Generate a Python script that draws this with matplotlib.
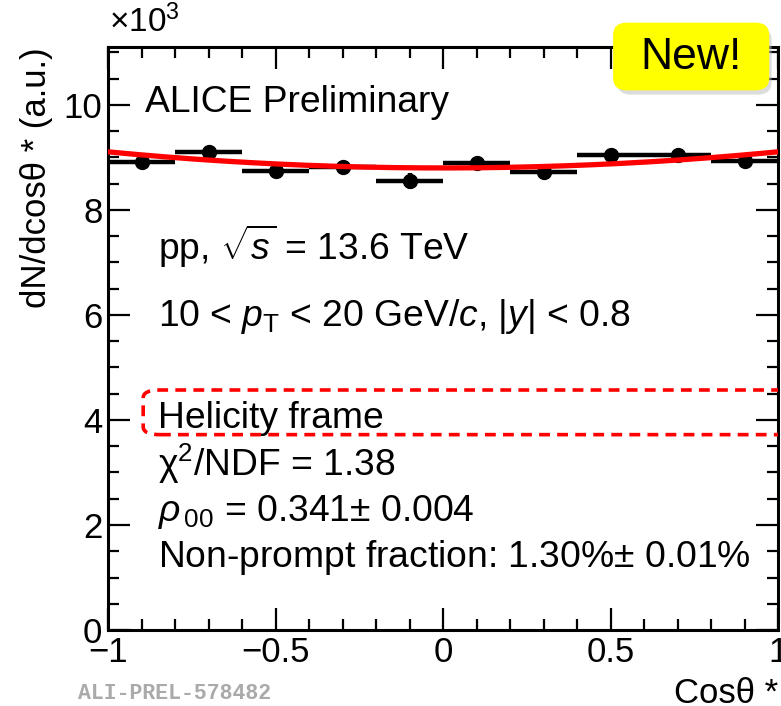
import numpy as np
import matplotlib
matplotlib.use("Agg")
import matplotlib.pyplot as plt
from matplotlib.patches import FancyBboxPatch
from matplotlib.ticker import MultipleLocator

plt.rcParams["font.family"] = ["Liberation Sans", "DejaVu Sans"]
plt.rcParams["mathtext.fontset"] = "custom"
plt.rcParams["mathtext.rm"] = "Liberation Sans"
plt.rcParams["mathtext.it"] = "Liberation Sans:italic"
plt.rcParams["mathtext.bf"] = "Liberation Sans:bold"

# cos(theta*) bins and yields (x10^3)
bin_centers = [-0.9, -0.7, -0.5, -0.3, -0.1, 0.1, 0.3, 0.5, 0.7, 0.9]
bin_half_width = 0.1
yields = [8.91, 9.10, 8.74, 8.82, 8.55, 8.90, 8.72, 9.05, 9.05, 8.93]
yield_errs = [0.06, 0.05, 0.05, 0.05, 0.15, 0.05, 0.05, 0.05, 0.05, 0.05]

# fit result
rho00 = 0.341
norm = 13.35
chi2_ndf = 1.38

fig = plt.figure(figsize=(7.81, 7.06), dpi=100)
ax = fig.add_axes([0.1383, 0.1076, 0.8579, 0.8258])

x_fit = np.linspace(-1, 1, 400)
y_fit = norm * ((1 - rho00) + (3 * rho00 - 1) * x_fit**2)

ax.errorbar(bin_centers, yields, xerr=bin_half_width, yerr=yield_errs,
            fmt="o", color="black", ms=10, elinewidth=3.2, capsize=0, zorder=3)
ax.plot(x_fit, y_fit, color="red", lw=3.8, zorder=4)

ax.set_xlim(-1, 1)
ax.set_ylim(0, 11.1)
ax.xaxis.set_major_locator(MultipleLocator(0.5))
ax.xaxis.set_minor_locator(MultipleLocator(0.1))
ax.yaxis.set_major_locator(MultipleLocator(2))
ax.yaxis.set_minor_locator(MultipleLocator(0.5))
ax.tick_params(which="both", direction="in", top=True, right=True, width=1.6)
ax.tick_params(which="major", length=16, labelsize=25, pad=4)
ax.tick_params(which="minor", length=8)
ax.set_xticks([-1, -0.5, 0, 0.5, 1])
ax.set_xticklabels(["\u22121", "\u22120.5", "0", "0.5", "1"])
for s in ax.spines.values():
    s.set_linewidth(2.2)

ax.set_xlabel("Cos\u03b8 *", fontsize=25, loc="right", labelpad=6)
ax.set_ylabel("dN/dcos\u03b8 * (a.u.)", fontsize=25, loc="top", labelpad=8)
fig.text(0.14, 0.945, r"$\times$10$^3$", fontsize=24, ha="left", va="bottom")

tkw = dict(transform=ax.transAxes, fontsize=26.8, ha="left", va="center")
ax.text(0.055, 0.905, "ALICE Preliminary", **tkw)
ax.text(0.075, 0.658, r"pp, $\sqrt{s}$ = 13.6 TeV", **tkw)
ax.text(0.075, 0.538, r"10 < $p_{\rm T}$ < 20 GeV/$c$, |$y$| < 0.8", **tkw)
ax.text(0.075, 0.362, "Helicity frame", **tkw)
ax.text(0.075, 0.285, "\u03c7$^2$/NDF = %.2f" % chi2_ndf, **tkw)
ax.text(0.075, 0.202, r"$\rho_{\,00}$ = 0.341$\pm$ 0.004", **tkw)
ax.text(0.075, 0.125, r"Non-prompt fraction: 1.30%$\pm$ 0.01%", **tkw)

# dashed frame around the frame label
box = FancyBboxPatch((-0.895, 3.72), 2.2, 0.85, boxstyle="round,pad=0,rounding_size=0.05",
                     mutation_aspect=3.0, fill=False, edgecolor="red", lw=2.6,
                     linestyle=(0, (3, 2)), clip_on=True, zorder=5)
ax.add_patch(box)

# "New!" badge with soft shadow
shadow = FancyBboxPatch((0.790, 0.866), 0.198, 0.095, boxstyle="round,pad=0,rounding_size=0.018",
                        transform=fig.transFigure, facecolor="#bbbbbb", edgecolor="none",
                        alpha=0.5, zorder=9)
fig.patches.append(shadow)
badge = FancyBboxPatch((0.785, 0.872), 0.200, 0.096, boxstyle="round,pad=0,rounding_size=0.018",
                       transform=fig.transFigure, facecolor="#ffff00", edgecolor="none", zorder=10)
fig.patches.append(badge)
fig.text(0.885, 0.918, "New!", fontsize=32, ha="center", va="center", zorder=11)

fig.text(0.100, 0.018, "ALI-PREL-578482", fontsize=15.5, family="Liberation Mono",
         weight="bold", color="#aaaaaa", ha="left", va="center")

fig.savefig("out.png", dpi=100)
